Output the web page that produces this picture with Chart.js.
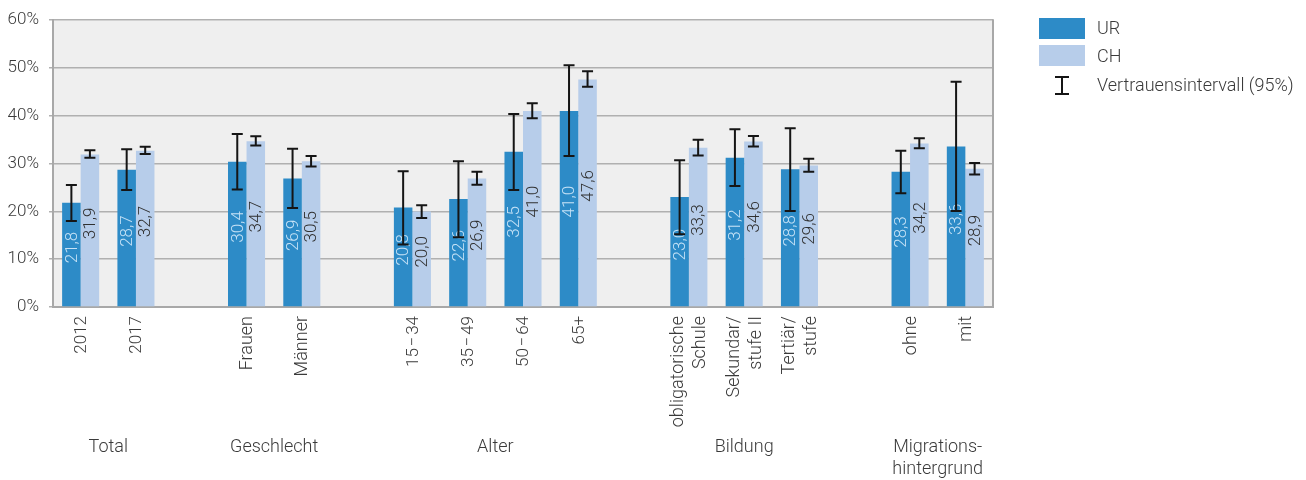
<!DOCTYPE html>
<html lang="de">
<head>
<meta charset="utf-8">
<title>UR / CH</title>
<script src="https://cdn.jsdelivr.net/npm/chart.js@4/dist/chart.umd.min.js"></script>
<style>
  html, body { margin: 0; padding: 0; background: #ffffff; }
  #wrap { width: 1306px; height: 480px; position: relative; }
</style>
</head>
<body>
<div id="wrap"><canvas id="chart" width="1306" height="480"></canvas></div>
<script>
// Categories (empty entries separate the groups)
const categories = [
  ['2012'], ['2017'], [],
  ['Frauen'], ['Männer'], [],
  ['15\u200A−\u200A34'], ['35\u200A−\u200A49'], ['50\u200A−\u200A64'], ['65+'], [],
  ['obligatorische', 'Schule'], ['Sekundar/', 'stufe II'], ['Tertiär/', 'stufe'], [],
  ['ohne'], ['mit']
];

// Group headings and the category indices they span
const groupLabels = [['Total'], ['Geschlecht'], ['Alter'], ['Bildung'], ['Migrations-', 'hintergrund']];
const groupSpans = [[0, 1], [3, 4], [6, 9], [11, 13], [15, 16]];

// Shares in %
const urValues = [21.8, 28.7, null, 30.4, 26.9, null, 20.8, 22.6, 32.5, 41.0, null, 23.0, 31.2, 28.8, null, 28.3, 33.6];
const chValues = [31.9, 32.7, null, 34.7, 30.5, null, 20.0, 26.9, 41.0, 47.6, null, 33.3, 34.6, 29.6, null, 34.2, 28.9];

// 95% confidence intervals
const urLow  = [18.0, 24.5, null, 24.6, 20.7, null, 13.1, 14.6, 24.5, 31.6, null, 15.2, 25.3, 20.1, null, 23.8, 20.1];
const urHigh = [25.5, 33.0, null, 36.2, 33.1, null, 28.4, 30.5, 40.4, 50.6, null, 30.7, 37.2, 37.4, null, 32.7, 47.1];
const chLow  = [31.2, 32.0, null, 33.8, 29.4, null, 18.6, 25.6, 39.5, 46.1, null, 31.7, 33.6, 28.3, null, 33.2, 27.7];
const chHigh = [32.8, 33.5, null, 35.7, 31.6, null, 21.3, 28.3, 42.6, 49.3, null, 35.0, 35.8, 31.0, null, 35.3, 30.1];

// Y axis ticks
const yTicks = [0, 10, 20, 30, 40, 50, 60];

const seriesNames = ['UR', 'CH'];
const legendCI = 'Vertrauensintervall (95%)';

const COLOR_UR = '#2d8bc7';
const COLOR_CH = '#b7cdea';
const TEXT = '#3a3a3a';
const FONT = 'Roboto, "Liberation Sans", sans-serif';
const NUM_FONT = '300 17px ' + FONT;
const WORD_FONT = '300 18px ' + FONT;

// Grey plot background and right frame line
const plotFrame = {
  id: 'plotFrame',
  beforeDraw(chart) {
    const { ctx, chartArea: a } = chart;
    ctx.save();
    ctx.fillStyle = '#efefef';
    ctx.fillRect(a.left, a.top, a.right - a.left, a.bottom - a.top);
    ctx.restore();
  },
  afterDraw(chart) {
    const { ctx, chartArea: a } = chart;
    ctx.save();
    ctx.strokeStyle = '#a8a8a8';
    ctx.lineWidth = 2;
    ctx.beginPath();
    ctx.moveTo(a.right, a.top - 1);
    ctx.lineTo(a.right, a.bottom);
    ctx.stroke();
    ctx.restore();
  }
};

// Rotated value labels inside the bars, then the confidence interval whiskers
const barDecor = {
  id: 'barDecor',
  afterDatasetsDraw(chart) {
    const { ctx } = chart;
    const y = chart.scales.y;
    const lows = [urLow, chLow];
    const highs = [urHigh, chHigh];
    const labelColors = ['#c6e2f6', '#303030'];
    ctx.save();
    chart.data.datasets.forEach((ds, di) => {
      const meta = chart.getDatasetMeta(di);
      meta.data.forEach((bar, i) => {
        const v = ds.data[i];
        if (v === null || v === undefined) return;
        const mid = (bar.y + bar.base) / 2 - 7;
        ctx.save();
        ctx.translate(bar.x, mid);
        ctx.rotate(-Math.PI / 2);
        ctx.font = NUM_FONT;
        ctx.fillStyle = labelColors[di];
        ctx.textAlign = 'center';
        ctx.textBaseline = 'middle';
        ctx.fillText(v.toFixed(1).replace('.', ','), 0, 1);
        ctx.restore();
      });
    });
    chart.data.datasets.forEach((ds, di) => {
      const meta = chart.getDatasetMeta(di);
      meta.data.forEach((bar, i) => {
        const lo = lows[di][i], hi = highs[di][i];
        if (lo === null || hi === null) return;
        const yl = y.getPixelForValue(lo);
        const yh = y.getPixelForValue(hi);
        const cap = 5.5;
        ctx.strokeStyle = '#151515';
        ctx.lineWidth = 2;
        ctx.beginPath();
        ctx.moveTo(bar.x, yh); ctx.lineTo(bar.x, yl);
        ctx.moveTo(bar.x - cap, yh); ctx.lineTo(bar.x + cap, yh);
        ctx.moveTo(bar.x - cap, yl); ctx.lineTo(bar.x + cap, yl);
        ctx.stroke();
      });
    });
    ctx.restore();
  }
};

// Category labels (rotated) and group headings below the axis
const xLabels = {
  id: 'xLabels',
  afterDraw(chart) {
    const { ctx, chartArea: a } = chart;
    const x = chart.scales.x;
    ctx.save();
    ctx.fillStyle = TEXT;
    categories.forEach((lines, i) => {
      if (!lines.length) return;
      const px = x.getPixelForValue(i);
      lines.forEach((line, k) => {
        const off = (k - (lines.length - 1) / 2) * 22;
        ctx.save();
        ctx.translate(px + off, a.bottom + 9);
        ctx.rotate(-Math.PI / 2);
        ctx.font = /^[0-9+−\u200A\-]+$/.test(line) ? NUM_FONT : WORD_FONT;
        ctx.textAlign = 'right';
        ctx.textBaseline = 'middle';
        ctx.fillText(line, 0, 1);
        ctx.restore();
      });
    });
    ctx.font = WORD_FONT;
    ctx.textAlign = 'center';
    ctx.textBaseline = 'middle';
    groupLabels.forEach((lines, g) => {
      const [s, e] = groupSpans[g];
      const cx = (x.getPixelForValue(s) + x.getPixelForValue(e)) / 2;
      lines.forEach((line, k) => {
        ctx.fillText(line, cx, 447 + k * 22);
      });
    });
    ctx.restore();
  }
};

// Legend on the right
const sideLegend = {
  id: 'sideLegend',
  afterDraw(chart) {
    const { ctx } = chart;
    const x0 = 1039;
    ctx.save();
    ctx.fillStyle = COLOR_UR;
    ctx.fillRect(x0, 18, 46, 21);
    ctx.fillStyle = COLOR_CH;
    ctx.fillRect(x0, 45, 46, 21);
    ctx.strokeStyle = '#151515';
    ctx.lineWidth = 2;
    const cx = 1062, t = 77, b = 94, cap = 7;
    ctx.beginPath();
    ctx.moveTo(cx, t); ctx.lineTo(cx, b);
    ctx.moveTo(cx - cap, t); ctx.lineTo(cx + cap, t);
    ctx.moveTo(cx - cap, b); ctx.lineTo(cx + cap, b);
    ctx.stroke();
    ctx.fillStyle = TEXT;
    ctx.font = WORD_FONT;
    ctx.textAlign = 'left';
    ctx.textBaseline = 'middle';
    ctx.fillText(seriesNames[0], 1097, 29);
    ctx.fillText(seriesNames[1], 1097, 57);
    ctx.fillText(legendCI, 1097, 86);
    ctx.restore();
  }
};

new Chart(document.getElementById('chart'), {
  type: 'bar',
  data: {
    labels: categories.map(c => c.join(' ')),
    datasets: [
      { label: seriesNames[0], data: urValues, backgroundColor: COLOR_UR, borderWidth: 0 },
      { label: seriesNames[1], data: chValues, backgroundColor: COLOR_CH, borderWidth: 0 }
    ]
  },
  options: {
    responsive: false,
    animation: false,
    layout: { padding: { left: 0, top: 18, right: 313, bottom: 173 } },
    plugins: { legend: { display: false }, tooltip: { enabled: false } },
    datasets: { bar: { categoryPercentage: 0.67, barPercentage: 1.0 } },
    scales: {
      x: {
        grid: { display: false },
        border: { display: true, color: '#a8a8a8', width: 2 },
        ticks: { display: false },
        afterFit(scale) { scale.height = 0; }
      },
      y: {
        min: 0, max: 60,
        afterBuildTicks(scale) { scale.ticks = yTicks.map(v => ({ value: v })); },
        afterFit(scale) { scale.width = 53; },
        grid: { color: '#b0b0b0', lineWidth: 1.5, tickLength: 4, drawTicks: true },
        border: { display: true, color: '#a8a8a8', width: 2 },
        ticks: {
          padding: 10,
          color: TEXT,
          font: { family: FONT, size: 17, weight: 300 },
          callback: v => v + '%'
        }
      }
    }
  },
  plugins: [plotFrame, barDecor, xLabels, sideLegend]
});
</script>
</body>
</html>
